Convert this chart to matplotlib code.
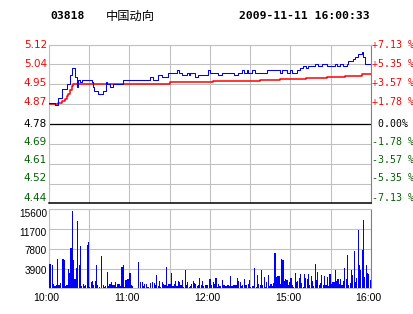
import matplotlib
matplotlib.use("Agg")
import matplotlib.pyplot as plt
import matplotlib.transforms as mtransforms
import numpy as np

# ----------------------------------------------------------------------------
# Data: 03818 中国动向, intraday 2009-11-11
# ----------------------------------------------------------------------------

code = "03818"
name = "中国动向"
stamp = "2009-11-11 16:00:33"
prev_close = 4.78
pct_levels = [7.13, 5.35, 3.57, 1.78, 0.0, -1.78, -3.57, -5.35, -7.13]

# trading-clock minutes (0..240), labelled every 60 min
time_ticks = [0, 60, 120, 180, 240]
time_labels = ["10:00", "11:00", "12:00", "15:00", "16:00"]

# last price: minute at which it changed -> new price
price_t = [0, 4.5, 6.5, 9.9, 13.2, 15.6, 16.9, 19.4, 20.6, 21.9,
           23.1, 24.5, 31.8, 32.8, 33.8, 36.8, 40.5, 42.3, 43.5, 45.5,
           47.9, 55.4, 75.3, 77.7, 81.5, 84, 88.5, 95.5, 96.9, 99.5,
           102.6, 104, 105.1, 108.8, 110.8, 118.2, 120, 126.2, 128.7, 138.1,
           141.1, 143.6, 145.6, 147.3, 148.5, 151, 153.5, 162.2, 172.1, 173.9,
           177.1, 179.6, 181.3, 184.6, 187, 189.5, 191.3, 193.2, 198.2, 200.7,
           203.2, 206.9, 213.1, 214.4, 216.8, 219.3, 221.8, 223, 226.8, 228,
           230.5, 233, 234.2, 235.5, 240]
price_v = [4.87, 4.86, 4.89, 4.93, 4.95, 4.99, 5.02, 4.98, 4.94, 4.97,
           4.96, 4.97, 4.96, 4.94, 4.92, 4.91, 4.92, 4.96, 4.95, 4.94,
           4.95, 4.97, 4.98, 4.97, 4.99, 4.98, 5.00, 5.01, 5.00, 4.99,
           5.00, 4.99, 5.00, 4.98, 4.99, 5.01, 5.00, 4.99, 5.00, 4.99,
           5.00, 5.01, 5.00, 5.01, 5.00, 5.01, 5.00, 5.01, 5.00, 5.01,
           5.00, 5.01, 5.00, 5.01, 5.02, 5.03, 5.02, 5.03, 5.04, 5.03,
           5.04, 5.03, 5.04, 5.03, 5.04, 5.03, 5.04, 5.05, 5.06, 5.07,
           5.08, 5.09, 5.07, 5.04, 5.04]

# average price
avg_t = [0, 6.9, 9.4, 11.9, 13.2, 14.4, 15.6, 16.9, 18.1, 20.6,
         90.2, 122.4, 157.2, 172.1, 191.7, 207, 220.8, 233, 240]
avg_v = [4.865, 4.869, 4.880, 4.888, 4.899, 4.909, 4.928, 4.943, 4.950, 4.953,
         4.959, 4.964, 4.968, 4.972, 4.978, 4.982, 4.988, 4.993, 4.993]

# volume per minute, morning (10:00-11:59) and rest of day
vol_am = [4800, 4800, 4600, 850, 530, 660, 5800, 660, 990, 0,
          5800, 5600, 460, 660, 3800, 3000, 7900, 15300, 5600, 1800,
          4100, 13300, 4600, 8400, 530, 920, 460, 660, 8600, 9100,
          330, 1200, 1450, 660, 1450, 4600, 660, 330, 0, 6400,
          660, 330, 460, 3200, 460, 860, 1300, 660, 660, 1200,
          330, 920, 920, 460, 4300, 4550, 330, 1650, 1840, 1840,
          3000, 660, 460, 0, 0, 0, 5100, 0, 1200, 1200,
          460, 860, 860, 330, 330, 990, 0, 1200, 990, 660,
          2600, 460, 1450, 330, 1200, 790, 660, 4200, 460, 860,
          860, 3000, 460, 860, 1450, 460, 1450, 1200, 660, 1650,
          330, 3600, 660, 1200, 330, 460, 860, 1450, 990, 860,
          460, 660, 2100, 660, 1450, 460, 660, 660, 660, 1840]
vol_pm = [1840, 660, 1200, 860, 2050, 330, 860, 460, 0, 1650,
          660, 460, 460, 660, 460, 2430, 460, 660, 660, 660,
          2050, 1450, 1300, 460, 660, 1840, 660, 660, 860, 1650,
          330, 460, 460, 4000, 330, 2630, 860, 660, 3600, 660,
          2240, 330, 1200, 2630, 460, 860, 460, 990, 7000, 2300,
          2430, 2430, 860, 5800, 5600, 1450, 1840, 1650, 660, 1300,
          2050, 660, 330, 3000, 1300, 1450, 2050, 2830, 990, 330,
          2830, 2050, 1840, 2760, 660, 2430, 1450, 460, 4800, 1650,
          3150, 660, 990, 2630, 660, 2430, 660, 2240, 460, 2760,
          860, 1200, 1300, 3600, 1450, 1840, 860, 1840, 660, 1450,
          4000, 1840, 6600, 660, 990, 3600, 2630, 7400, 1200, 2050,
          11500, 4600, 3600, 7600, 13500, 2240, 4600, 3000, 2760, 1650]
vol_ticks = [15600, 11700, 7800, 3900]

# ----------------------------------------------------------------------------
# Layout (pixels of the 414x314 canvas)
# ----------------------------------------------------------------------------

W, H = 414, 314
RED, GREEN, BLUE = "#FF0000", "#006400", "#0000FF"
GRID = "#C0C0C0"
EDGE = "#808080"


def box(left, top, right, bottom):
    return [left / W, 1 - bottom / H, (right - left) / W, (bottom - top) / H]


fig = plt.figure(figsize=(W / 100, H / 100), dpi=100)
ax = fig.add_axes(box(49, 44.7, 371, 203.3))
axv = fig.add_axes(box(49, 209.3, 371, 288.3))

levels = [prev_close * (1 + p / 100) for p in pct_levels]

# price panel
ax.set_xlim(0, 240)
ax.set_ylim(levels[-1], levels[0])
ax.set_xticks(range(0, 241, 30))
ax.set_yticks(levels)
ax.grid(color=GRID, lw=0.75)
ax.set_axisbelow(True)
ax.tick_params(length=0, labelleft=False, labelbottom=False)
ax.axhline(prev_close, color="black", lw=0.9, zorder=2)
for side in ("left", "top"):
    ax.spines[side].set_color(GRID)
ax.spines["right"].set_color(EDGE)
ax.spines["bottom"].set_color("black")
ax.spines["bottom"].set_linewidth(1.1)

ax.plot(avg_t, avg_v, color=RED, lw=1.1, drawstyle="steps-post", zorder=3)
ax.plot(price_t, price_v, color=BLUE, lw=0.75, drawstyle="steps-post", zorder=4)

# axis labels: left price, right percent (lower ones sit a bit higher)
label_dy = [0, 0.5, 1, 2, 0, 1.5, 3.5, 5.5, 5.6]
ytrans = ax.get_yaxis_transform()
for lvl, pct, dy in zip(levels, pct_levels, label_dy):
    color = RED if pct > 0 else (GREEN if pct < 0 else "black")
    tl = mtransforms.offset_copy(ytrans, fig=fig, x=-2, y=dy, units="dots")
    ax.text(0, lvl, f"{lvl:.2f}", transform=tl, ha="right", va="center",
            color=color, fontsize=7.5, family="DejaVu Sans")
    tr = mtransforms.offset_copy(ytrans, fig=fig, x=1, y=dy, units="dots")
    txt = " 0.00%" if pct == 0 else f"{pct:+.2f} %"
    ax.text(1, lvl, txt, transform=tr, ha="left", va="center",
            color=color, fontsize=7.1, family="DejaVu Sans Mono")

# volume panel
vols = vol_am + vol_pm
axv.bar(np.arange(len(vols)), vols, width=0.85, align="edge",
        color=BLUE, linewidth=0, antialiased=False, zorder=3)
axv.set_xlim(0, 240)
axv.set_ylim(0, vol_ticks[0])
axv.set_xticks(range(0, 241, 30))
axv.set_yticks(vol_ticks)
axv.grid(color=GRID, lw=0.75)
axv.set_axisbelow(True)
axv.tick_params(length=0, labelleft=False, labelbottom=False)
for side in ("left", "top", "bottom"):
    axv.spines[side].set_color(GRID)
axv.spines["right"].set_color(EDGE)

vol_dy = [-4.5, -3.5, -2.5, -2]
vtrans = axv.get_yaxis_transform()
for v, dy in zip(vol_ticks, vol_dy):
    tv = mtransforms.offset_copy(vtrans, fig=fig, x=-2, y=dy, units="dots")
    axv.text(0, v, str(v), transform=tv, ha="right", va="center",
             fontsize=7.2, family="Liberation Sans")

xtrans = mtransforms.offset_copy(axv.get_xaxis_transform(), fig=fig,
                                 x=-2.5, y=-9.5, units="dots")
for t, lab in zip(time_ticks, time_labels):
    axv.text(t, 0, lab, transform=xtrans, ha="center", va="center",
             fontsize=7.6, family="Liberation Sans")

# header
fig.text(50 / W, 1 - 16 / H, code, ha="left", va="center", fontsize=8.2,
         family="DejaVu Sans Mono", weight="bold")
fig.text(106 / W, 1 - 16 / H, name, ha="left", va="center", fontsize=8.8,
         family=["Noto Sans CJK SC", "DejaVu Sans"])
fig.text(370 / W, 1 - 16 / H, stamp, ha="right", va="center", fontsize=8.2,
         family="DejaVu Sans Mono", weight="bold")

fig.savefig("out.png", dpi=100)
